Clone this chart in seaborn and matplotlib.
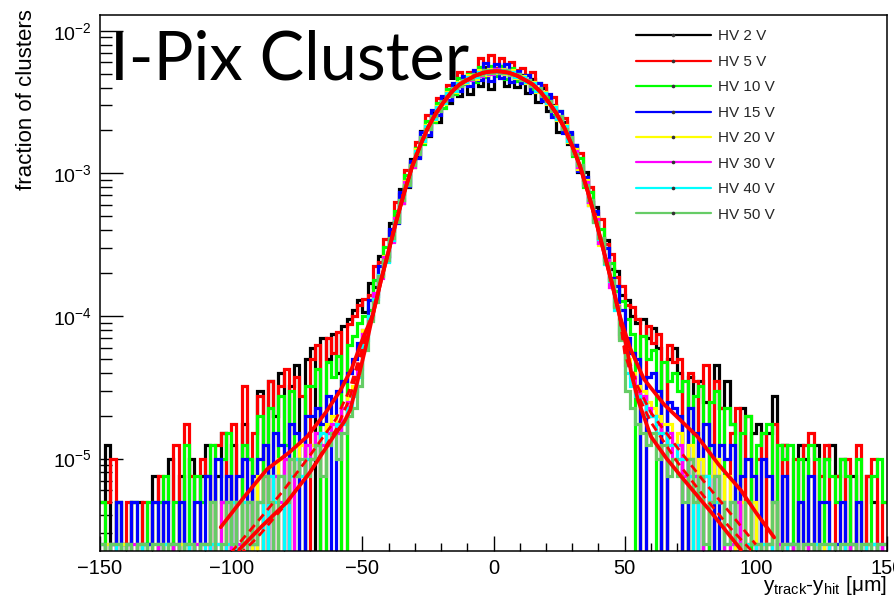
import numpy as np
import pandas as pd
import matplotlib
matplotlib.use("Agg")
import matplotlib.pyplot as plt
import seaborn as sns
from matplotlib.lines import Line2D
from matplotlib.ticker import (FixedLocator, FixedFormatter, MultipleLocator,
                               LogLocator, NullFormatter)

# Residual histograms: 2 um bins between -150 and 150 um, entries per bin
bin_edges = np.arange(-150, 152, 2)
n_entries = 400000

hv_labels = ["HV 2 V", "HV 5 V", "HV 10 V", "HV 15 V",
             "HV 20 V", "HV 30 V", "HV 40 V", "HV 50 V"]
hv_colors = ["#000000", "#ff0000", "#00ff00", "#0000ff",
             "#ffff00", "#ff00ff", "#00ffff", "#66cc66"]

hv2 = [2, 5, 0, 2, 1, 0, 2, 2, 0, 1,
       3, 0, 2, 4, 0, 3, 0, 4, 0, 3,
       5, 0, 3, 6, 0, 5, 0, 7, 4, 0,
       12, 0, 14, 8, 16, 0, 13, 18, 0, 20,
       24, 0, 28, 20, 30, 16, 34, 38, 44, 52,
       43, 68, 64, 105, 106, 179, 182, 309, 321, 502,
       522, 787, 728, 1052, 918, 1362, 1238, 1702, 1394, 1786,
       1442, 2033, 1643, 2216, 1554, 2038, 2279, 1642, 2044, 1626,
       1962, 1465, 1836, 1261, 1584, 1092, 1216, 782, 924, 644,
       632, 408, 409, 253, 233, 141, 136, 86, 83, 56,
       52, 40, 36, 38, 28, 33, 24, 0, 20, 24,
       16, 0, 15, 0, 14, 10, 0, 18, 9, 14,
       7, 0, 9, 0, 6, 7, 0, 6, 11, 0,
       5, 0, 0, 5, 4, 0, 5, 0, 4, 5,
       3, 4, 0, 3, 0, 0, 3, 2, 0, 0]

hv5 = [0, 2, 4, 0, 1, 2, 0, 1, 2, 0,
       2, 3, 0, 0, 5, 0, 7, 3, 0, 4,
       3, 0, 5, 6, 0, 7, 0, 13, 0, 6,
       11, 0, 14, 0, 13, 17, 0, 15, 11, 0,
       20, 25, 0, 28, 22, 31, 0, 35, 40, 48,
       53, 56, 90, 95, 139, 157, 254, 287, 420, 474,
       667, 679, 1027, 1002, 1353, 1246, 1656, 1608, 2040, 1875,
       2071, 1839, 2565, 2052, 2694, 2184, 2590, 2011, 2405, 2130,
       2205, 1786, 2040, 1529, 1656, 1311, 1376, 982, 984, 751,
       614, 559, 358, 323, 212, 192, 127, 109, 75, 65,
       48, 46, 38, 0, 34, 26, 30, 0, 25, 19,
       20, 0, 16, 14, 0, 18, 0, 14, 9, 0,
       6, 9, 0, 8, 0, 4, 6, 0, 7, 0,
       5, 0, 4, 0, 5, 6, 0, 3, 5, 0,
       3, 0, 4, 0, 5, 0, 3, 4, 0, 2]

hv10 = [2, 0, 1, 2, 0, 1, 2, 0, 1, 2,
        0, 2, 3, 0, 2, 0, 5, 0, 3, 2,
        3, 5, 0, 4, 6, 0, 0, 5, 4, 0,
        8, 0, 9, 0, 11, 5, 12, 0, 0, 13,
        13, 17, 0, 19, 15, 21, 0, 25, 29, 36,
        40, 44, 72, 78, 122, 135, 218, 249, 391, 441,
        604, 639, 936, 917, 1256, 1152, 1550, 1445, 1865, 1692,
        1997, 1742, 2244, 1888, 2279, 1934, 2279, 1847, 2204, 1781,
        1771, 1959, 1559, 1728, 1320, 1382, 1028, 1097, 783, 767,
        529, 510, 320, 298, 186, 162, 100, 94, 60, 51,
        38, 30, 0, 29, 20, 23, 0, 19, 14, 16,
        12, 14, 0, 11, 13, 0, 10, 12, 0, 9,
        7, 0, 6, 8, 0, 5, 6, 7, 0, 5,
        4, 5, 0, 4, 0, 5, 4, 0, 4, 3,
        2, 4, 3, 0, 4, 0, 0, 3, 4, 2]

hv15 = [1, 0, 1, 2, 0, 1, 2, 0, 1, 1,
        2, 0, 2, 1, 0, 2, 1, 0, 2, 1,
        3, 0, 4, 2, 3, 0, 3, 4, 0, 3,
        4, 5, 0, 6, 5, 0, 7, 6, 0, 8,
        8, 9, 7, 11, 0, 12, 14, 16, 20, 26,
        32, 52, 55, 90, 97, 162, 179, 295, 324, 489,
        515, 778, 746, 1113, 1025, 1405, 1317, 1725, 1523, 1920,
        1627, 2130, 1804, 2360, 1782, 2330, 1865, 2339, 1743, 2091,
        1712, 1956, 1489, 1725, 1289, 1430, 1002, 1093, 763, 778,
        629, 415, 380, 241, 219, 129, 119, 74, 65, 44,
        28, 22, 20, 0, 15, 16, 12, 0, 10, 9,
        8, 0, 9, 6, 0, 7, 5, 0, 5, 4,
        5, 0, 3, 4, 3, 0, 4, 3, 2, 0,
        3, 1, 0, 2, 1, 3, 0, 2, 2, 0,
        1, 2, 0, 1, 2, 0, 1, 1, 0, 1]

hv20 = [0, 1, 0, 0, 1, 0, 0, 1, 0, 0,
        1, 0, 0, 1, 0, 1, 0, 1, 1, 0,
        1, 2, 0, 2, 1, 0, 2, 1, 2, 0,
        3, 0, 3, 2, 4, 0, 4, 3, 5, 4,
        5, 6, 5, 7, 8, 7, 9, 11, 13, 18,
        32, 40, 57, 75, 106, 136, 195, 248, 352, 440,
        590, 665, 880, 950, 1180, 1220, 1490, 1500, 1760, 1710,
        1960, 1850, 2120, 1960, 2170, 2010, 2160, 1980, 2110, 1860,
        1920, 1710, 1760, 1500, 1490, 1220, 1180, 950, 880, 660,
        590, 432, 357, 242, 197, 126, 99, 64, 48, 29,
        20, 16, 13, 12, 10, 9, 8, 7, 7, 5,
        6, 4, 5, 0, 4, 3, 3, 4, 2, 3,
        2, 0, 2, 1, 2, 1, 0, 1, 2, 0,
        1, 0, 1, 0, 0, 1, 0, 0, 1, 0,
        0, 0, 1, 0, 0, 0, 1, 0, 0, 0]

hv30 = [0, 0, 1, 0, 0, 0, 1, 0, 0, 0,
        0, 1, 0, 0, 1, 0, 0, 0, 1, 0,
        1, 0, 1, 2, 0, 2, 1, 0, 2, 1,
        2, 3, 0, 3, 2, 4, 0, 4, 3, 5,
        4, 6, 5, 6, 7, 6, 9, 10, 12, 17,
        30, 38, 58, 74, 103, 133, 196, 246, 350, 440,
        548, 712, 815, 1010, 1100, 1295, 1390, 1590, 1650, 1800,
        1800, 1990, 1940, 2120, 2000, 2150, 2010, 2110, 1950, 1990,
        1810, 1800, 1640, 1590, 1390, 1295, 1100, 1010, 815, 712,
        570, 442, 348, 250, 190, 130, 98, 64, 47, 28,
        18, 15, 12, 11, 9, 8, 7, 6, 6, 4,
        5, 3, 4, 3, 0, 3, 2, 3, 2, 0,
        1, 2, 0, 1, 1, 0, 1, 1, 0, 1,
        0, 1, 0, 0, 1, 0, 0, 0, 0, 1,
        0, 0, 0, 1, 0, 0, 0, 0, 1, 0]

hv40 = [0, 0, 0, 1, 0, 0, 0, 0, 1, 0,
        0, 0, 1, 0, 0, 0, 1, 0, 0, 1,
        0, 1, 1, 0, 1, 2, 0, 2, 1, 1,
        2, 0, 3, 2, 3, 0, 3, 4, 3, 4,
        4, 5, 6, 5, 6, 7, 7, 9, 11, 15,
        27, 40, 53, 77, 96, 137, 184, 262, 333, 455,
        575, 680, 860, 965, 1160, 1240, 1460, 1520, 1725, 1740,
        1900, 1900, 2060, 2010, 2130, 2040, 2120, 2010, 2060, 1900,
        1900, 1740, 1725, 1520, 1460, 1240, 1160, 965, 860, 680,
        548, 456, 332, 262, 182, 138, 92, 70, 44, 30,
        16, 13, 11, 10, 8, 8, 6, 6, 5, 5,
        4, 4, 3, 0, 3, 3, 2, 2, 2, 1,
        2, 1, 0, 1, 1, 0, 1, 1, 0, 0,
        0, 1, 1, 0, 0, 0, 1, 0, 0, 1,
        0, 1, 0, 0, 0, 1, 0, 1, 0, 0]

hv50 = [1, 0, 1, 1, 0, 1, 0, 1, 1, 0,
        1, 1, 0, 1, 1, 0, 1, 1, 0, 1,
        1, 2, 0, 1, 2, 1, 2, 0, 2, 1,
        2, 3, 2, 0, 3, 2, 4, 3, 4, 3,
        4, 5, 3, 5, 6, 4, 6, 8, 9, 13,
        23, 37, 50, 76, 98, 140, 183, 262, 332, 458,
        550, 715, 815, 1010, 1100, 1295, 1385, 1590, 1645, 1800,
        1830, 1985, 1960, 2110, 2020, 2130, 2020, 2110, 1960, 1985,
        1820, 1800, 1645, 1590, 1385, 1295, 1100, 1010, 815, 715,
        548, 458, 330, 262, 183, 140, 94, 72, 46, 27,
        12, 9, 7, 6, 5, 6, 4, 5, 3, 4,
        3, 2, 4, 2, 3, 1, 2, 3, 2, 1,
        2, 1, 0, 2, 1, 1, 0, 1, 2, 0,
        1, 1, 1, 0, 1, 1, 0, 1, 1, 1,
        0, 1, 1, 1, 0, 1, 1, 0, 1, 1]

hv_counts = [hv2, hv5, hv10, hv15, hv20, hv30, hv40, hv50]

# Fit functions (fraction of clusters vs residual in um)
fit_core_x = [-49, -46, -43, -40, -37, -34, -31, -28, -25, -22, -19, -16,
              -13, -10, -7, -4, -1, 1, 3, 6, 9, 12, 15, 18, 21, 24, 27,
              30, 33, 36, 39, 42, 45, 48, 51]
fit_core_y = [5.75e-5, 1.02e-4, 1.74e-4, 2.85e-4, 4.68e-4, 7.38e-4, 1.12e-3,
              1.56e-3, 2.09e-3, 2.63e-3, 3.16e-3, 3.72e-3, 4.20e-3, 4.52e-3,
              4.84e-3, 5.07e-3, 5.18e-3, 5.20e-3, 5.18e-3, 5.07e-3, 4.84e-3,
              4.52e-3, 4.20e-3, 3.72e-3, 3.16e-3, 2.63e-3, 2.09e-3, 1.56e-3,
              1.12e-3, 7.38e-4, 4.68e-4, 2.85e-4, 1.74e-4, 1.02e-4, 5.75e-5]

fit_upper_left_x = [-104, -95, -86.4, -78, -71, -64, -58.4, -54, -50]
fit_upper_left_y = [3.3e-6, 5.4e-6, 8.4e-6, 1.1e-5, 1.43e-5, 2.1e-5, 3.0e-5,
                    4.3e-5, 6.8e-5]
fit_upper_right_x = [52, 55, 57.4, 65, 77.7, 86, 94.3, 100, 107]
fit_upper_right_y = [6.0e-5, 4.5e-5, 3.6e-5, 2.4e-5, 1.43e-5, 9.0e-6, 6.0e-6,
                     4.2e-6, 2.8e-6]

fit_lower_left_x = [-97, -88, -79, -70, -61, -57, -54.6, -52]
fit_lower_left_y = [2.3e-6, 3.4e-6, 4.9e-6, 8.0e-6, 1.43e-5, 1.8e-5, 2.2e-5,
                    3.4e-5]
fit_lower_right_x = [52.5, 55, 60, 66, 72.6, 83, 94.3]
fit_lower_right_y = [4.0e-5, 2.6e-5, 1.43e-5, 1.0e-5, 7.1e-6, 4.2e-6, 2.3e-6]

fit_mid1_left_x = [-100, -90, -80, -70, -60, -55, -50]
fit_mid1_left_y = [2.2e-6, 3.6e-6, 6.0e-6, 1.05e-5, 1.9e-5, 3.0e-5, 6.0e-5]
fit_mid1_right_x = [50, 55, 60, 70, 80, 90, 100]
fit_mid1_right_y = [6.0e-5, 3.2e-5, 2.1e-5, 1.2e-5, 7.0e-6, 4.2e-6, 2.5e-6]

fit_mid2_left_x = [-97, -90, -80, -70, -60, -55, -50]
fit_mid2_left_y = [2.1e-6, 2.8e-6, 4.6e-6, 8.0e-6, 1.6e-5, 2.6e-5, 5.5e-5]
fit_mid2_right_x = [50, 55, 60, 70, 80, 90, 100]
fit_mid2_right_y = [5.5e-5, 2.8e-5, 1.8e-5, 9.5e-6, 5.5e-6, 3.3e-6, 2.1e-6]


def fit_frame(left_x, left_y, core_x, core_y, right_x, right_y):
    return pd.DataFrame({"x": list(left_x) + list(core_x) + list(right_x),
                         "y": list(left_y) + list(core_y) + list(right_y)})


fit_upper = fit_frame(fit_upper_left_x, fit_upper_left_y,
                      fit_core_x[1:-1], fit_core_y[1:-1],
                      fit_upper_right_x, fit_upper_right_y)
fit_lower = fit_frame(fit_lower_left_x, fit_lower_left_y,
                      fit_core_x, fit_core_y,
                      fit_lower_right_x, fit_lower_right_y)
fit_mid1 = fit_frame(fit_mid1_left_x, fit_mid1_left_y,
                     fit_core_x[1:-1], fit_core_y[1:-1],
                     fit_mid1_right_x, fit_mid1_right_y)
fit_mid2 = fit_frame(fit_mid2_left_x, fit_mid2_left_y,
                     fit_core_x[1:-1], fit_core_y[1:-1],
                     fit_mid2_right_x, fit_mid2_right_y)

# ---------------------------------------------------------------- style
sns.set_theme(style="ticks")
plt.rcParams["font.family"] = ["Liberation Sans", "DejaVu Sans"]
plt.rcParams["mathtext.fontset"] = "custom"
plt.rcParams["mathtext.rm"] = "Liberation Sans"
plt.rcParams["mathtext.it"] = "Liberation Sans:italic"
plt.rcParams["mathtext.bf"] = "Liberation Sans:bold"
plt.rcParams["axes.unicode_minus"] = True

W, H = 894, 603
fig = plt.figure(figsize=(W / 100, H / 100), dpi=100)
fig.patch.set_facecolor("white")
ax = fig.add_axes([100 / W, (H - 551) / H, 787 / W, 536 / H])
ax.set_facecolor("white")
ax.set_yscale("log")

# histograms drawn as open step lines; empty bins drop below the axis
for counts, color in zip(hv_counts, hv_colors):
    frac = np.asarray(counts, dtype=float) / n_entries
    frac[frac == 0] = 1e-9
    ax.stairs(frac, bin_edges, color=color, lw=2.3, baseline=None, zorder=2)

# fitted functions
for df in (fit_mid1, fit_mid2):
    sns.lineplot(data=df, x="x", y="y", ax=ax, color="red", lw=2.0,
                 estimator=None, sort=False, linestyle=(0, (3, 2)), zorder=3)
for df in (fit_lower, fit_upper):
    sns.lineplot(data=df, x="x", y="y", ax=ax, color="red", lw=2.7,
                 estimator=None, sort=False, zorder=4)

ax.set_xlim(-150, 150)
ax.set_ylim(2.25e-6, 1.29e-2)
ax.set_xlabel("")
ax.set_ylabel("")
ax.grid(False)

ax.xaxis.set_major_locator(MultipleLocator(50))
ax.xaxis.set_minor_locator(MultipleLocator(10))
ax.yaxis.set_major_locator(FixedLocator([1e-5, 1e-4, 1e-3, 1e-2]))
ax.yaxis.set_major_formatter(FixedFormatter(
    [r"$\mathregular{10^{-5}}$", r"$\mathregular{10^{-4}}$",
     r"$\mathregular{10^{-3}}$", r"$\mathregular{10^{-2}}$"]))
ax.yaxis.set_minor_locator(LogLocator(base=10, subs=np.arange(2, 10) * 1.0,
                                      numticks=30))
ax.yaxis.set_minor_formatter(NullFormatter())

ax.tick_params(axis="both", which="both", direction="in", top=False,
               right=False, color="black", labelcolor="black", width=1.0)
ax.tick_params(axis="x", which="major", length=11, pad=5.5, labelsize=14.5)
ax.tick_params(axis="x", which="minor", length=5.5)
ax.tick_params(axis="y", which="major", length=16.5, pad=6, labelsize=14)
ax.tick_params(axis="y", which="minor", length=8.5)
for sp in ax.spines.values():
    sp.set_color("black")
    sp.set_linewidth(1.1)
    sp.set_visible(True)

# legend
handles = [Line2D([], [], color=c, lw=1.6, marker="o", markersize=1.6,
                  markerfacecolor="#333333", markeredgecolor="#333333")
           for c in hv_colors]
ax.legend(handles, hv_labels, loc="upper left",
          bbox_to_anchor=(636 / W, 1 - 29.5 / H), bbox_transform=fig.transFigure,
          frameon=False, fontsize=11, handlelength=4.9, handletextpad=0.5,
          labelspacing=0.75, borderpad=0, borderaxespad=0, numpoints=1)

# annotations
ax.text(110 / W, 1 - 79 / H, "I-Pix Cluster", transform=fig.transFigure,
        fontsize=48, family=["Lato", "DejaVu Sans"], color="black",
        va="baseline", ha="left", zorder=1)
fig.text(27 / W, 1 - 9 / H, "fraction of clusters", rotation=90,
         ha="center", va="top", fontsize=16, color="black")
fig.text(887 / W, 1 - 591 / H,
         r"$\mathregular{y_{track}}$-$\mathregular{y_{hit}}$ [$\mathregular{\mu}$m]",
         ha="right", va="baseline", fontsize=15, color="black")

fig.savefig("out.png", dpi=100, facecolor="white")
